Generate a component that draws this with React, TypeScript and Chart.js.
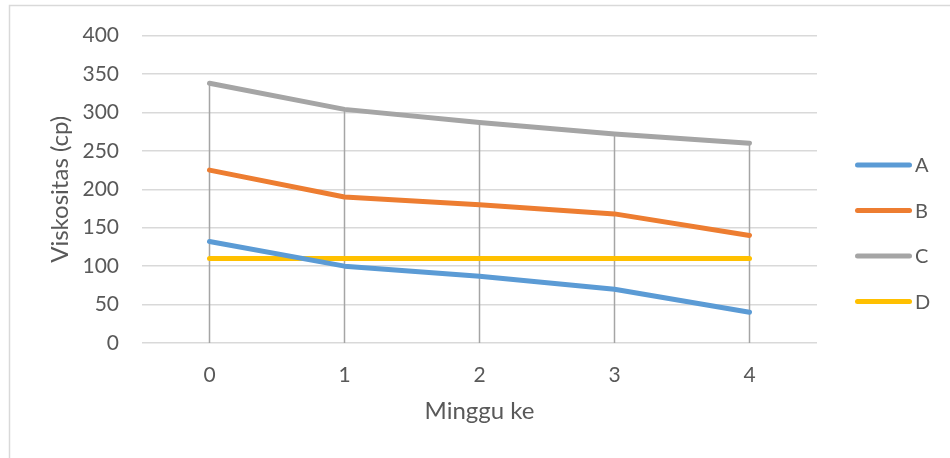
import React, { useEffect, useRef } from "react";
import { Chart, registerables } from "chart.js";

Chart.register(...registerables);

const categories = ["0", "1", "2", "3", "4"];
const seriesA = [132, 100, 87, 70, 40];
const seriesB = [225, 190, 180, 168, 140];
const seriesC = [338, 304, 287, 272, 260];
const seriesD = [110, 110, 110, 110, 110];
const seriesNames = ["A", "B", "C", "D"];
const seriesColors = ["#5B9BD5", "#ED7D31", "#A5A5A5", "#FFC000"];
const yTicks = [0, 50, 100, 150, 200, 250, 300, 350, 400];

const FONT = "Lato, 'Open Sans', sans-serif";
const TEXT = "#595959";

const frame = {
  id: "frame",
  beforeDraw(chart: any) {
    const ctx = chart.ctx;
    ctx.save();
    ctx.fillStyle = "#ffffff";
    ctx.fillRect(0, 0, chart.width, chart.height);
    ctx.strokeStyle = "#D9D9D9";
    ctx.lineWidth = 1.5;
    ctx.strokeRect(9.5, 5.5, chart.width + 20, chart.height + 20);
    ctx.restore();
  },
};

const dropLines = {
  id: "dropLines",
  beforeDatasetsDraw(chart: any) {
    const ctx = chart.ctx;
    const xs = chart.scales.x;
    const ys = chart.scales.y;
    ctx.save();
    ctx.strokeStyle = "#A5A5A5";
    ctx.lineWidth = 1.5;
    categories.forEach((_, i) => {
      let max = -Infinity;
      chart.data.datasets.forEach((d: any) => {
        if (d.data[i] > max) max = d.data[i];
      });
      const x = xs.getPixelForValue(i);
      ctx.beginPath();
      ctx.moveTo(x, ys.getPixelForValue(max));
      ctx.lineTo(x, ys.getPixelForValue(0));
      ctx.stroke();
    });
    ctx.restore();
  },
};

const customLegend = {
  id: "customLegend",
  afterDraw(chart: any) {
    const ctx = chart.ctx;
    const left = chart.chartArea.right + 38;
    const lineLen = 57;
    const startY = 165;
    const step = 45.5;
    ctx.save();
    chart.data.datasets.forEach((d: any, i: number) => {
      const y = startY + i * step;
      ctx.strokeStyle = d.borderColor;
      ctx.lineWidth = 5;
      ctx.lineCap = "round";
      ctx.beginPath();
      ctx.moveTo(left + 2.5, y);
      ctx.lineTo(left + lineLen - 2.5, y);
      ctx.stroke();
      ctx.fillStyle = TEXT;
      ctx.font = `20px ${FONT}`;
      ctx.textBaseline = "middle";
      ctx.textAlign = "left";
      ctx.fillText(d.label, left + lineLen + 3, y + 1);
    });
    ctx.restore();
  },
};

export default function App() {
  const ref = useRef<HTMLCanvasElement | null>(null);
  useEffect(() => {
    if (!ref.current) return;
    const values = [seriesA, seriesB, seriesC, seriesD];
    const chart = new Chart(ref.current, {
      type: "line",
      data: {
        labels: categories,
        datasets: values.map((v, i) => ({
          label: seriesNames[i],
          data: v,
          borderColor: seriesColors[i],
          backgroundColor: seriesColors[i],
          borderWidth: 5,
          pointRadius: 0,
          tension: 0,
          borderCapStyle: "round",
          borderJoinStyle: "round",
          fill: false,
        })),
      },
      options: {
        responsive: false,
        animation: false,
        layout: { padding: { left: 0, top: 34, right: 133, bottom: 0 } },
        plugins: {
          legend: { display: false },
          tooltip: { enabled: false },
        },
        scales: {
          x: {
            offset: true,
            grid: { display: false, drawTicks: false },
            border: { display: false },
            ticks: { color: TEXT, font: { family: FONT, size: 21 }, padding: 20 },
            title: {
              display: true,
              text: "Minggu ke",
              color: TEXT,
              font: { family: FONT, size: 24 },
              padding: { top: 0, bottom: 32 },
            },
            afterFit(s: any) {
              s.height = 115;
            },
          },
          y: {
            min: 0,
            max: 400,
            afterBuildTicks(s: any) {
              s.ticks = yTicks.map((v) => ({ value: v }));
            },
            grid: { color: "#D9D9D9", lineWidth: 1.5, drawTicks: false },
            border: { display: false },
            ticks: { color: TEXT, font: { family: FONT, size: 21 }, padding: 23 },
            title: {
              display: true,
              text: "Viskositas (cp)",
              color: TEXT,
              font: { family: FONT, size: 24 },
              padding: { top: 46, bottom: 0 },
            },
            afterFit(s: any) {
              s.width = 142;
            },
          },
        },
      },
      plugins: [frame, dropLines, customLegend],
    } as any);
    return () => chart.destroy();
  }, []);
  return (
    <div style={{ position: "absolute", left: 0, top: 0, width: 950, height: 458 }}>
      <canvas ref={ref} width={950} height={458} />
    </div>
  );
}
